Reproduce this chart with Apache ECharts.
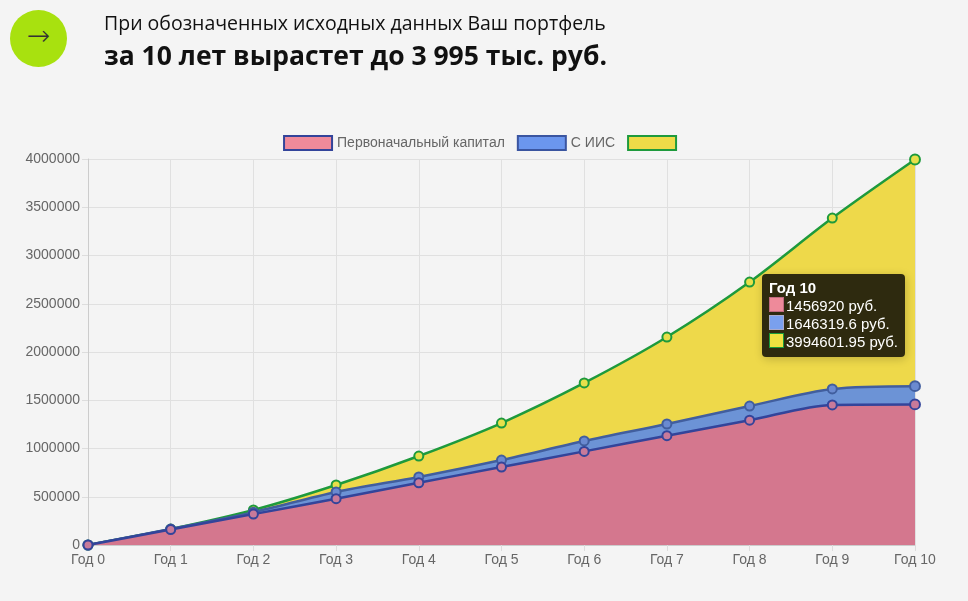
<!DOCTYPE html>
<html><head><meta charset="utf-8">
<script src="https://cdn.jsdelivr.net/npm/echarts@6/dist/echarts.min.js"></script>
<style>
body{margin:0;background:#f4f4f4;width:968px;height:601px;overflow:hidden;font-family:"Open Sans",sans-serif;position:relative}
#c{position:absolute;left:0;top:0;width:968px;height:601px}
#circ{position:absolute;left:10px;top:10px;width:57px;height:57px;border-radius:50%;background:#a8e10f;color:#333;font-size:28px;text-align:center;line-height:52px;font-family:"DejaVu Sans";font-weight:200}
#t1{position:absolute;left:104px;top:9px;font-size:19.5px;color:#111}
#t2{position:absolute;left:104px;top:37px;font-size:26.5px;font-weight:bold;color:#111}
</style></head><body>
<div id="c"></div>
<div id="circ">&rarr;</div>
<div id="t1">При обозначенных исходных данных Ваш портфель</div>
<div id="t2">за 10 лет вырастет до 3 995 тыс. руб.</div>
<script>
const categories=["Год 0","Год 1","Год 2","Год 3","Год 4","Год 5","Год 6","Год 7","Год 8","Год 9","Год 10"];
const initialCapital=[0,160000,320000,480000,645000,808000,970000,1133000,1293000,1452000,1456920];
const withIIS=[0,165000,340000,550000,705000,880000,1078000,1254000,1440000,1617000,1646319.6];
const total=[0,165000,363000,622000,922000,1264000,1679000,2155000,2725000,3388000,3994601.95];
const names=["Первоначальный капитал","С ИИС"," "];
const chart=echarts.init(document.getElementById('c'));
function s(name,data,fill,line,pt){return {name,type:'line',data,smooth:0.3,symbol:'circle',symbolSize:9,
 lineStyle:{color:line,width:2.5},itemStyle:{color:pt,borderColor:line,borderWidth:2},areaStyle:{color:fill,opacity:1},
 emphasis:{disabled:true}};}
chart.setOption({
 animation:false,
 grid:{left:88,right:53,top:159,bottom:56},
 legend:{top:130,left:'center',icon:'rect',itemWidth:48,itemHeight:14,itemGap:12,
   data:[{name:names[0],itemStyle:{color:'#ef8a9a',borderColor:'#33449a',borderWidth:2}},
         {name:names[1],itemStyle:{color:'#6b96ee',borderColor:'#3a55a0',borderWidth:2}},
         {name:names[2],itemStyle:{color:'#eedb48',borderColor:'#1e9a3c',borderWidth:2}}],
   textStyle:{color:'#666',fontSize:14,fontFamily:'Liberation Sans'}},
 tooltip:{trigger:'axis',alwaysShowContent:true,position:[762,274],backgroundColor:'rgba(35,33,12,0.95)',borderWidth:0,
   padding:[5,7,6,7],textStyle:{color:'#fff',fontSize:15,fontFamily:'Liberation Sans',lineHeight:18},axisPointer:{type:'none'},
   formatter:function(p){const cols=[['#ee8a9a','#c06a80'],['#7aa0ee','#aac'],['#efe040','#1a9a3a']];
     const i=p[0].dataIndex;const vals=[initialCapital[i],withIIS[i],total[i]];
     let h='<div style="line-height:18px"><b>'+categories[i]+'</b>';
     vals.forEach((v,k)=>{h+='<br><span style="display:inline-block;width:13px;height:13px;background:'+cols[k][0]+';border:1px solid '+cols[k][1]+';margin-right:2px;vertical-align:-1px"></span>'+v+' руб.';});
     return h+'</div>';}},
 xAxis:{type:'category',boundaryGap:false,data:categories,
   axisLine:{lineStyle:{color:'#ccc'}},axisTick:{show:true,length:6,lineStyle:{color:'#ddd'}},
   axisLabel:{color:'#666',fontSize:14,fontFamily:'Liberation Sans'},splitLine:{show:true,lineStyle:{color:'#e0e0e0'}}},
 yAxis:{type:'value',min:0,max:4000000,interval:500000,
   axisLine:{show:true,lineStyle:{color:'#ccc'}},axisTick:{show:true,length:6,lineStyle:{color:'#ddd'}},
   axisLabel:{color:'#666',fontSize:14,fontFamily:'Liberation Sans',formatter:v=>String(v)},splitLine:{lineStyle:{color:'#e0e0e0'}}},
 series:[
  Object.assign(s(names[2],total,'#eed94a','#1e9a3c','#e8e04a'),{z:1}),
  Object.assign(s(names[1],withIIS,'#6c93d6','#415e9e','#6a8ad0'),{z:2}),
  Object.assign(s(names[0],initialCapital,'#d4778e','#33449a','#c87a9a'),{z:3})
 ]
});
chart.dispatchAction({type:'showTip',seriesIndex:0,dataIndex:10});
</script></body></html>
